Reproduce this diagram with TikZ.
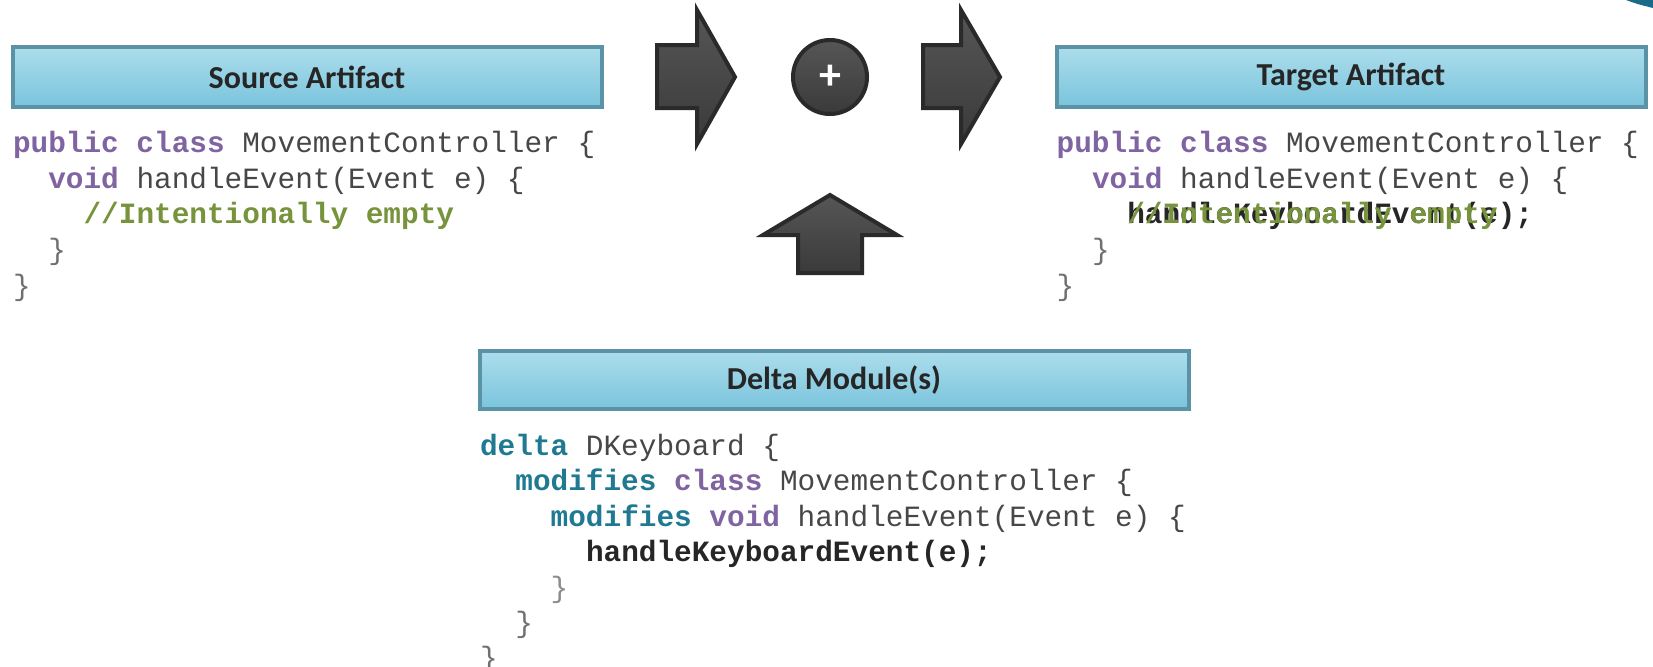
\documentclass[tikz,border=0pt]{standalone}
\usepackage{fontspec}
\setmainfont{Carlito}
\newfontfamily\codefont{Liberation Mono}

\definecolor{boxtop}{HTML}{ACDDEB}
\definecolor{boxbot}{HTML}{7AC4DD}
\definecolor{boxline}{HTML}{5A93A6}
\definecolor{arrowtop}{HTML}{565656}
\definecolor{arrowbot}{HTML}{3A3A3A}
\definecolor{arrowline}{HTML}{2A2A2A}
\definecolor{kwpurple}{HTML}{8064A2}
\definecolor{kwteal}{HTML}{1F7A91}
\definecolor{cmtgreen}{HTML}{77933C}
\definecolor{plain}{HTML}{474747}
\definecolor{bracegray}{HTML}{707070}
\definecolor{cornerteal}{HTML}{1A6B88}

% keyword / comment colouring for the code listings
\newcommand\kw[1]{\textcolor{kwpurple}{\bfseries #1}}
\newcommand\dkw[1]{\textcolor{kwteal}{\bfseries #1}}
\newcommand\cmt[1]{\textcolor{cmtgreen}{\bfseries #1}}
\newcommand\brc{\textcolor{bracegray}{\}}}

\tikzset{
  headbox/.style={draw=boxline, line width=2pt, top color=boxtop, bottom color=boxbot,
    minimum height=29.8pt, inner sep=0pt, text=black!85,
    font=\fontsize{16}{18}\selectfont\bfseries},
  code/.style={anchor=base west, inner sep=0pt, text=plain,
    font=\codefont\fontsize{14.7}{16}\selectfont},
  blockarrow/.style={draw=arrowline, line width=2pt, top color=arrowtop, bottom color=arrowbot},
  plusop/.style={circle, draw=arrowline, line width=2pt, top color=arrowtop, bottom color=arrowbot,
    minimum size=37pt, inner sep=0pt, text=white, font=\fontsize{22}{22}\selectfont\bfseries},
}

\begin{document}
\begin{tikzpicture}[x=0.5pt,y=-0.5pt]
  \useasboundingbox (0,0) rectangle (1653,666);

  % corner of the slide decoration
  \fill[cornerteal] (1626,0) .. controls (1637,4) .. (1653,8) -- (1653,0) -- cycle;

  % headers
  \node[headbox, minimum width=294.5pt] (source) at (307,77) {Source Artifact};
  \node[headbox, minimum width=294.5pt] (target) at (1351,77) {Target Artifact};
  \node[headbox, minimum width=354.5pt, minimum height=29pt] (delta) at (834,380) {Delta Module(s)};

  % source listing
  \node[code] (s1) at (12.6,152.6) {\kw{public class} MovementController \{};
  \node[code] (s2) at (47.9,188.2) {\kw{void} handleEvent(Event e) \{};
  \node[code] (s3) at (83.2,223.8) {\cmt{//Intentionally empty}};
  \node[code] (s4) at (47.9,259.4) {\brc};
  \node[code] (s5) at (12.6,295) {\brc};

  % target listing, old comment still lying over the new call
  \node[code] (t1) at (1056.3,152.6) {\kw{public class} MovementController \{};
  \node[code] (t2) at (1091.6,188.2) {\kw{void} handleEvent(Event e) \{};
  \node[code, text=black!85] (t3) at (1126.9,223.8) {\bfseries handleKeyboardEvent(e);};
  \node[code] (t3c) at (1126.9,223.8) {\cmt{//Intentionally empty}};
  \node[code] (t4) at (1091.6,259.4) {\brc};
  \node[code] (t5) at (1056.3,295) {\brc};

  % delta listing
  \node[code] (d1) at (479.7,455) {\dkw{delta} DKeyboard \{};
  \node[code] (d2) at (515,490.5) {\dkw{modifies} \kw{class} MovementController \{};
  \node[code] (d3) at (550.3,526) {\dkw{modifies} \kw{void} handleEvent(Event e) \{};
  \node[code, text=black!85] (d4) at (585.6,561.5) {\bfseries handleKeyboardEvent(e);};
  \node[code, text=black!45] (d5) at (550.3,597) {\}};
  \node[code] (d6) at (515,632.5) {\brc};
  \node[code] (d7) at (479.7,667) {\brc};

  % apply operator and block arrows
  \draw[blockarrow] (657,45) -- (697,45) -- (697,10) -- (735,77) -- (697,144) -- (697,108)
    -- (657,108) -- cycle;
  \node[plusop] (apply) at (830,77) {+};
  \draw[blockarrow] (923,45) -- (961,45) -- (961,10) -- (1000,77) -- (961,144) -- (961,108)
    -- (923,108) -- cycle;
  \draw[blockarrow] (798,273) -- (798,235) -- (763,235) -- (830,195) -- (897,235) -- (862,235)
    -- (862,273) -- cycle;
\end{tikzpicture}
\end{document}
